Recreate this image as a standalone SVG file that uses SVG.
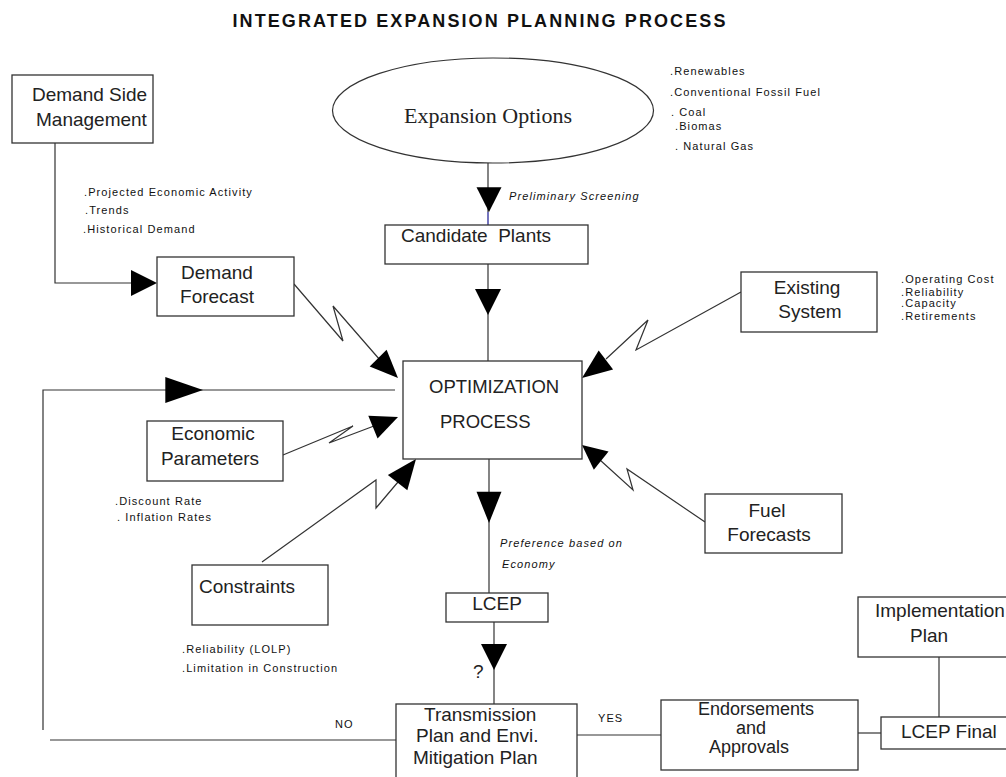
<svg xmlns="http://www.w3.org/2000/svg" xmlns:xlink="http://www.w3.org/1999/xlink" width="1006" height="777" viewBox="0 0 1006 777">
<style>
.box{fill:#fff;stroke:#333;stroke-width:1.3}
.ln{fill:none;stroke:#333;stroke-width:1.2}
.t{font-family:"Liberation Sans",Arial,sans-serif;font-size:19px;fill:#222;white-space:pre}
.s{font-family:"Liberation Sans",Arial,sans-serif;font-size:11px;fill:#111;letter-spacing:1.1px;white-space:pre}
.i{font-style:italic}
.title{font-family:"Liberation Sans",Arial,sans-serif;font-size:18px;font-weight:bold;fill:#111;letter-spacing:2.1px}
.ser{font-family:"Liberation Serif","Times New Roman",serif;font-size:22px;fill:#222}
</style>
<defs>
<path id="ah" d="M0,0 L-26,-13 L-26,13 Z" fill="#000"/>
</defs>
<rect width="1006" height="777" fill="#fff"/>
<text class="title" x="480" y="27" text-anchor="middle">INTEGRATED EXPANSION PLANNING PROCESS</text>

<g id="connectors">
<polyline class="ln" points="55,143 55,283 140,283"/>
<line class="ln" x1="488" y1="163" x2="488" y2="212"/>
<line x1="488" y1="212" x2="488" y2="225" stroke="#2a2a9a" stroke-width="1.3"/>
<line class="ln" x1="488" y1="264" x2="488" y2="361"/>
<polyline class="ln" points="395,390 43,390 43,730"/>
<line class="ln" x1="50" y1="740" x2="396" y2="740"/>
<line class="ln" x1="489" y1="459" x2="489" y2="593"/>
<line class="ln" x1="494" y1="622" x2="494" y2="704"/>
<line class="ln" x1="577" y1="735" x2="661" y2="735"/>
<line class="ln" x1="858" y1="733" x2="881" y2="733"/>
<line class="ln" x1="939" y1="657" x2="939" y2="717"/>
<polyline class="ln" points="294,284 343,341 333,306 380,360"/>
<polyline class="ln" points="741,292 636,350 648,320 606,359"/>
<polyline class="ln" points="705,522 627,469 633,490 600,460"/>
<polyline class="ln" points="283,455 353,426 329,443 374,426"/>
<polyline class="ln" points="262,562 376,480 376,508 398,482"/>
<use xlink:href="#ah" transform="translate(157,283)"/>
<use xlink:href="#ah" transform="translate(489,212) rotate(90) scale(0.95,0.96)"/>
<use xlink:href="#ah" transform="translate(488,315) rotate(90)"/>
<use xlink:href="#ah" transform="translate(398,378) rotate(45) scale(1.08,0.92)"/>
<use xlink:href="#ah" transform="translate(582,378) rotate(143) scale(1.15,0.92)"/>
<use xlink:href="#ah" transform="translate(582,445) rotate(-141) scale(0.95,0.9)"/>
<use xlink:href="#ah" transform="translate(398,417) rotate(-22) scale(1.04,0.95)"/>
<use xlink:href="#ah" transform="translate(416,459) rotate(-52) scale(1.15,0.95)"/>
<use xlink:href="#ah" transform="translate(203,390) scale(1.45,1)"/>
<use xlink:href="#ah" transform="translate(489,523) rotate(90) scale(1.2,0.96)"/>
<use xlink:href="#ah" transform="translate(494,670) rotate(90)"/>
</g>

<g id="expansion-options">
<ellipse cx="493" cy="110.5" rx="160.5" ry="52.5" fill="#fff" stroke="#333" stroke-width="1.2"/>
<text class="ser" x="488" y="123" text-anchor="middle">Expansion Options</text>
<text class="s" x="670" y="75">.Renewables</text>
<text class="s" x="670" y="96">.Conventional Fossil Fuel</text>
<text class="s" x="671" y="116">. Coal</text>
<text class="s" x="675" y="130">.Biomas</text>
<text class="s" x="675" y="150">. Natural Gas</text>
<text class="s i" x="509" y="200">Preliminary Screening</text>
</g>

<g id="demand-side-management">
<rect class="box" x="12" y="75" width="141" height="68"/>
<text class="t" x="32" y="101">Demand Side</text>
<text class="t" x="36" y="126">Management</text>
<text class="s" x="84" y="196">.Projected Economic Activity</text>
<text class="s" x="85" y="214">.Trends</text>
<text class="s" x="83" y="233">.Historical Demand</text>
</g>

<g id="candidate-plants">
<rect class="box" x="385" y="225" width="203" height="39"/>
<text class="t" x="401" y="242">Candidate  Plants</text>
</g>

<g id="demand-forecast">
<rect class="box" x="157" y="257" width="137" height="59"/>
<text class="t" x="217" y="279" text-anchor="middle">Demand</text>
<text class="t" x="217" y="303" text-anchor="middle">Forecast</text>
</g>

<g id="existing-system">
<rect class="box" x="741" y="272" width="136" height="60"/>
<text class="t" x="807" y="294" text-anchor="middle">Existing</text>
<text class="t" x="810" y="318" text-anchor="middle">System</text>
<text class="s" x="901" y="283">.Operating Cost</text>
<text class="s" x="901" y="296">.Reliability</text>
<text class="s" x="901" y="307">.Capacity</text>
<text class="s" x="901" y="320">.Retirements</text>
</g>

<g id="optimization-process">
<rect class="box" x="403" y="361" width="179" height="98"/>
<text class="t" x="429" y="393" style="font-size:18.5px">OPTIMIZATION</text>
<text class="t" x="440" y="428" style="font-size:18.5px">PROCESS</text>
</g>

<g id="economic-parameters">
<rect class="box" x="147" y="421" width="136" height="60"/>
<text class="t" x="213" y="440" text-anchor="middle">Economic</text>
<text class="t" x="210" y="465" text-anchor="middle">Parameters</text>
<text class="s" x="115" y="505">.Discount Rate</text>
<text class="s" x="117" y="521">. Inflation Rates</text>
</g>

<g id="fuel-forecasts">
<rect class="box" x="705" y="494" width="137" height="59"/>
<text class="t" x="767" y="517" text-anchor="middle">Fuel</text>
<text class="t" x="769" y="541" text-anchor="middle">Forecasts</text>
</g>

<g id="constraints">
<rect class="box" x="192" y="565" width="136" height="60"/>
<text class="t" x="199" y="593">Constraints</text>
<text class="s" x="182" y="653">.Reliability (LOLP)</text>
<text class="s" x="182" y="672">.Limitation in Construction</text>
</g>

<g id="preference-label">
<text class="s i" x="500" y="547">Preference based on</text>
<text class="s i" x="502" y="568">Economy</text>
</g>

<g id="lcep">
<rect class="box" x="446" y="593" width="102" height="29"/>
<text class="t" x="497" y="610" text-anchor="middle">LCEP</text>
<text class="t" x="473" y="678">?</text>
</g>

<g id="transmission-plan">
<rect class="box" x="396" y="704" width="181" height="80"/>
<text class="t" x="424" y="721">Transmission</text>
<text class="t" x="416" y="742">Plan and Envi.</text>
<text class="t" x="413" y="764">Mitigation Plan</text>
<text class="s" x="335" y="728">NO</text>
<text class="s" x="598" y="722">YES</text>
</g>

<g id="endorsements">
<rect class="box" x="661" y="700" width="197" height="70"/>
<text class="t" x="756" y="715" text-anchor="middle" style="font-size:18px">Endorsements</text>
<text class="t" x="751" y="734" text-anchor="middle" style="font-size:18px">and</text>
<text class="t" x="749" y="753" text-anchor="middle" style="font-size:18px">Approvals</text>
</g>

<g id="implementation-plan">
<rect class="box" x="858" y="597" width="160" height="60"/>
<text class="t" x="875" y="617">Implementation</text>
<text class="t" x="929" y="642" text-anchor="middle">Plan</text>
</g>

<g id="lcep-final">
<rect class="box" x="881" y="717" width="140" height="32"/>
<text class="t" x="901" y="738">LCEP Final</text>
</g>
</svg>
